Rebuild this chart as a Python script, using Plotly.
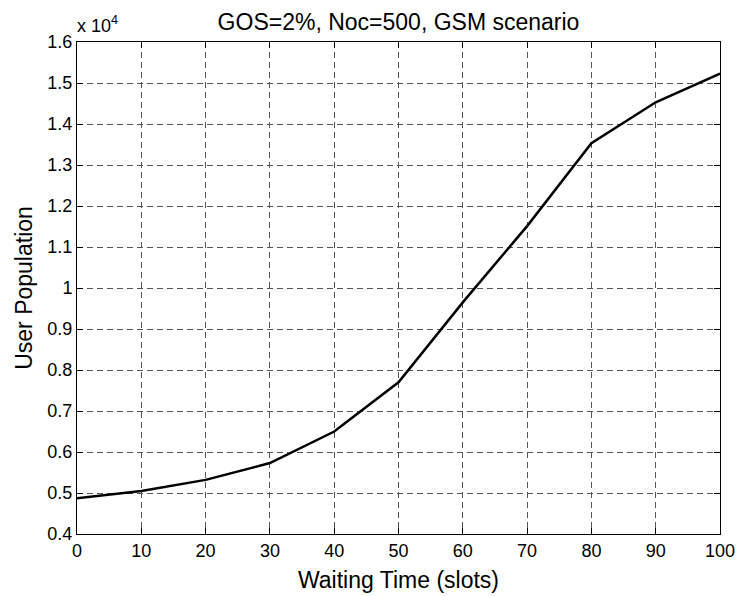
import plotly.graph_objects as go

waiting_time = [0, 10, 20, 30, 40, 50, 60, 70, 80, 90, 100]
user_population = [4870, 5050, 5320, 5730, 6500, 7700, 9650, 11510, 13530, 14530, 15230]

y_tickvals = [4000, 5000, 6000, 7000, 8000, 9000, 10000, 11000, 12000, 13000, 14000, 15000, 16000]
y_ticktext = ["0.4", "0.5", "0.6", "0.7", "0.8", "0.9", "1", "1.1", "1.2", "1.3", "1.4", "1.5", "1.6"]
x_tickvals = [0, 10, 20, 30, 40, 50, 60, 70, 80, 90, 100]

font_family = "Liberation Sans, Arial, sans-serif"

fig = go.Figure()
fig.add_trace(go.Scatter(
    x=waiting_time, y=user_population, mode="lines",
    line=dict(color="black", width=2.5), showlegend=False,
))

axis_common = dict(
    showline=True, linecolor="black", linewidth=1, mirror="ticks",
    ticks="inside", ticklen=6, tickcolor="black", tickwidth=1,
    showgrid=True, gridcolor="#555555", gridwidth=1, griddash="6px,4px",
    zeroline=False, automargin=False,
    tickfont=dict(family=font_family, size=18, color="black"),
)

fig.update_xaxes(range=[0, 100], tickvals=x_tickvals,
                 title=dict(text="Waiting Time (slots)", font=dict(family=font_family, size=23, color="black"), standoff=12),
                 **axis_common)
fig.update_yaxes(range=[4000, 16000], tickvals=y_tickvals, ticktext=y_ticktext,
                 title=dict(text="User Population", font=dict(family=font_family, size=23, color="black"), standoff=8),
                 **axis_common)

fig.update_layout(
    width=739, height=596,
    margin=dict(l=77, r=19, t=42, b=62),
    paper_bgcolor="white", plot_bgcolor="white",
    title=dict(text="GOS=2%, Noc=500, GSM scenario", x=0.5, xref="paper", xanchor="center",
               y=1 - 22 / 596, yref="container", yanchor="middle",
               font=dict(family=font_family, size=23, color="black")),
    font=dict(family=font_family, color="black"),
)

fig.add_annotation(text="x 10<sup>4</sup>", xref="paper", yref="paper", x=0, y=1,
                   xanchor="left", yanchor="bottom", yshift=4, xshift=-2, showarrow=False,
                   font=dict(family=font_family, size=18, color="black"))

fig.write_html("out.html", config={"displayModeBar": False},
               post_script="document.body.style.margin='0';document.documentElement.style.margin='0';")
